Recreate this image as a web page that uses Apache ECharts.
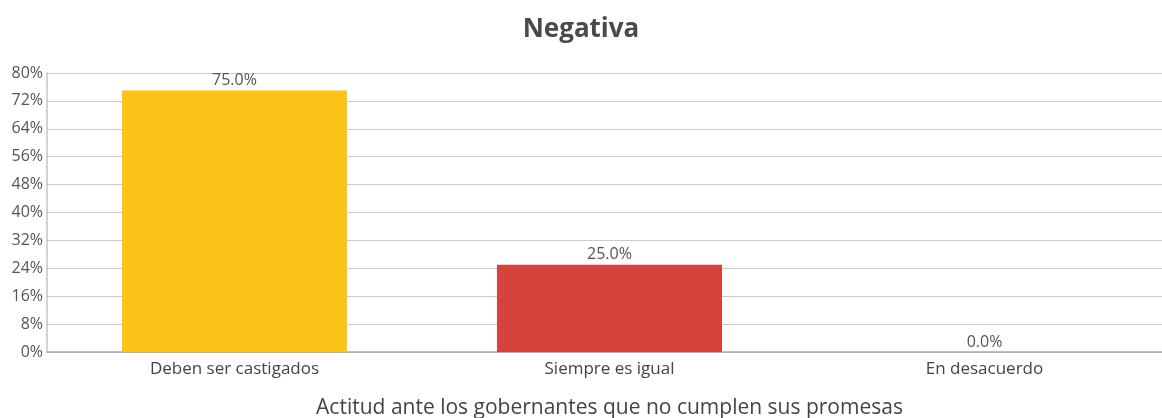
<!DOCTYPE html>
<html>
<head>
<meta charset="utf-8">
<script src="https://cdn.jsdelivr.net/npm/echarts@6/dist/echarts.min.js"></script>
<style>
  html, body { margin: 0; padding: 0; background: #fff; overflow: hidden; }
  #chart { width: 1162px; height: 418px; }
</style>
</head>
<body>
<div id="chart"></div>
<script>
// Chart content
const chartTitle = 'Negativa';
const axisTitle = 'Actitud ante los gobernantes que no cumplen sus promesas';
const categories = ['Deben ser castigados', 'Siempre es igual', 'En desacuerdo'];
const percentages = [75.0, 25.0, 0.0];
const barColors = ['#FCC419', '#D6433C', '#8BC34A'];
const yTicks = { min: 0, max: 80, step: 8 };

const fontFamily = '"Open Sans", "Noto Sans", sans-serif';

const chart = echarts.init(document.getElementById('chart'));
chart.setOption({
  animation: false,
  title: {
    text: chartTitle,
    left: 'center',
    top: 12,
    textStyle: { fontFamily, fontSize: 26, fontWeight: 'bold', color: '#4a4a4a' }
  },
  grid: { left: 47, right: -10, top: 73, bottom: 66, containLabel: false, outerBoundsMode: 'none' },
  xAxis: {
    type: 'category',
    data: categories,
    name: axisTitle,
    nameLocation: 'middle',
    nameGap: 46,
    nameTextStyle: { fontFamily, fontSize: 21, color: '#444' },
    axisLine: { lineStyle: { color: '#aaaaaa', width: 1.5 } },
    axisTick: { show: false },
    axisLabel: { fontFamily, fontSize: 17, color: '#444', margin: 9 }
  },
  yAxis: {
    type: 'value',
    min: yTicks.min,
    max: yTicks.max,
    interval: yTicks.step,
    axisLine: { show: true, lineStyle: { color: '#c4c4c4', width: 1.5 } },
    axisTick: { show: false },
    axisLabel: { fontFamily, fontSize: 16, color: '#555', margin: 4, formatter: '{value}%' },
    splitLine: { lineStyle: { color: '#cccccc', width: 1 } }
  },
  series: [{
    type: 'bar',
    barWidth: '60%',
    data: percentages.map((v, i) => ({ value: v, itemStyle: { color: barColors[i] } })),
    label: {
      show: true,
      position: 'top',
      distance: 2,
      fontFamily,
      fontSize: 16,
      color: '#555',
      formatter: p => p.value.toFixed(1) + '%'
    }
  }]
});
</script>
</body>
</html>
